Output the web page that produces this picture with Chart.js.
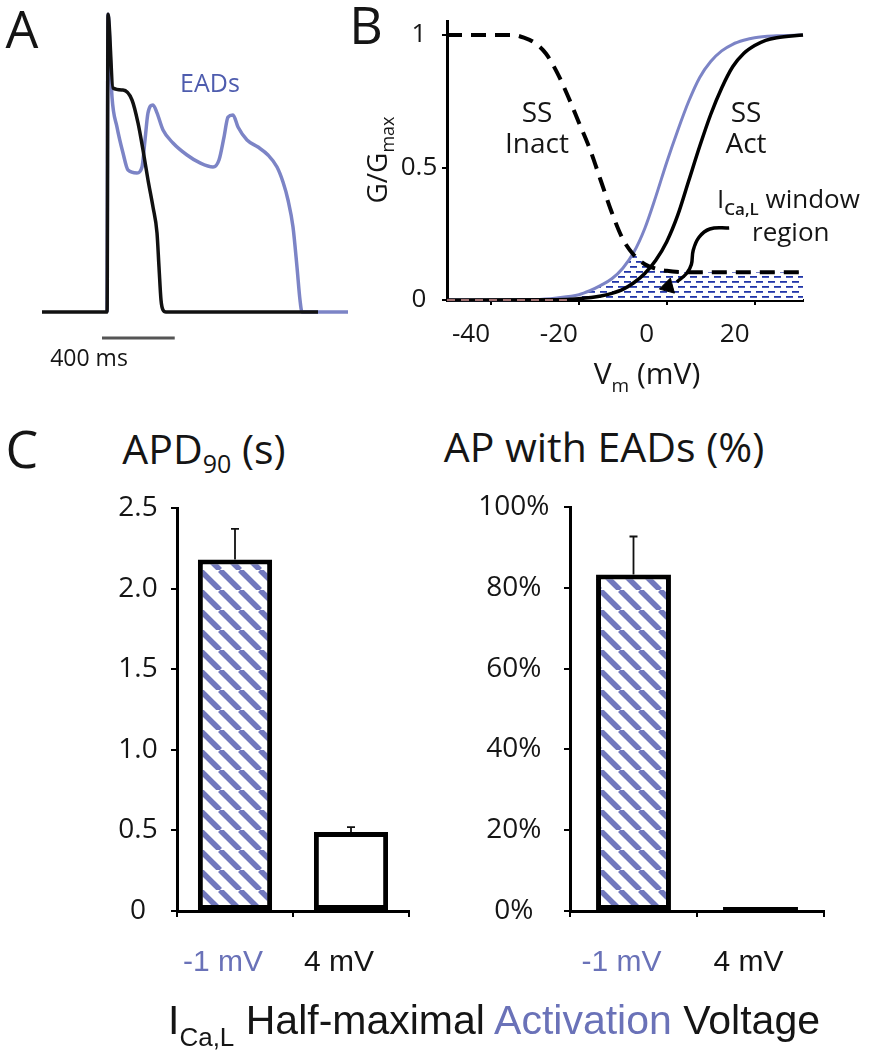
<!DOCTYPE html>
<html><head><meta charset="utf-8">
<script src="https://cdn.jsdelivr.net/npm/chart.js@4.4.1/dist/chart.umd.min.js"></script>
<style>
html,body{margin:0;padding:0;background:#fff;}
#root{position:relative;width:873px;height:1050px;overflow:hidden;background:#fff;font-family:"Open Sans",sans-serif;color:#151515;}
canvas{position:absolute;}
.t{position:absolute;transform:translate(-50%,-50%);white-space:nowrap;line-height:1;}
.l{position:absolute;transform:translate(0,-50%);white-space:nowrap;line-height:1;}
sub{line-height:0;}
</style></head><body><div id="root">
<canvas id="cA" style="left:30px;top:5px" width="330" height="340"></canvas>
<canvas id="cB" style="left:360px;top:0px" width="460" height="400"></canvas>
<canvas id="cC1" style="left:100px;top:490px" width="330" height="510"></canvas>
<canvas id="cC2" style="left:480px;top:490px" width="370" height="510"></canvas>

<div class="t" style="left:22px;top:28px;font-size:52px">A</div>
<div class="t" style="left:366px;top:24px;font-size:52px">B</div>
<div class="t" style="left:22px;top:448px;font-size:52px">C</div>
<div class="t" style="left:210px;top:82px;font-size:25px;color:#4e5cae">EADs</div>
<div class="t" style="left:89px;top:357px;font-size:23px">400 ms</div>
<div class="t" style="left:537px;top:127px;font-size:28px;line-height:31px;text-align:center">SS<br>Inact</div>
<div class="t" style="left:746px;top:127px;font-size:28px;line-height:31px;text-align:center">SS<br>Act</div>
<div class="l" style="left:717px;top:198px;font-size:26px">I<sub style="font-size:17px;vertical-align:-7px;font-weight:600">Ca,L</sub> window</div>
<div class="l" style="left:752px;top:231px;font-size:26px">region</div>
<div class="t" style="left:376px;top:160px;font-size:28px;transform:translate(-50%,-50%) rotate(-90deg)">G/G<sub style="font-size:18px;vertical-align:-7px">max</sub></div>
<div class="t" style="left:647px;top:373px;font-size:30px">V<sub style="font-size:19px;vertical-align:-8px">m</sub> (mV)</div>
<div class="t" style="left:204px;top:448px;font-size:41px">APD<sub style="font-size:25px;vertical-align:-9px">90</sub> (s)</div>
<div class="t" style="left:604px;top:446px;font-size:41px">AP with EADs (%)</div>
<div class="t" style="left:494px;top:1020px;font-size:41px;font-family:'Liberation Sans',Arial,sans-serif">I<sub style="font-size:26px;vertical-align:-12px">Ca,L</sub> Half-maximal <span style="color:#6a72b8">Activation</span> Voltage</div>
</div>
<script>
// ---------- Panel A: action potential traces (t in ms, V in mV) ----------
const blackT = [-363,-5,0,27.5,82.5,132,165,192.5,220,247.5,269.5,280.5,291.5,302.5,319,1155];
const blackV = [-85,-85,46,13.6,12.7,8.3,-1.8,-13.7,-26.9,-38.8,-50.2,-65.2,-79.7,-84.1,-85,-85];
const blueT = [-5,0,22,49.5,82.5,110,159.5,187,203.5,220,247.5,269.5,302.5,357.5,434.5,506,577.5,610.5,638,660,687.5,715,764.5,825,880,929.5,962.5,990,1017.5,1039.5,1056,1067,1320];
const blueV = [-85,46,9.6,-3.6,-15,-22.5,-23.8,-21.2,-9.3,2.6,6.1,2.6,-4.9,-10.6,-15.9,-19.4,-21.2,-18.1,-8,0.8,1.7,-3.6,-9.3,-12.4,-15.9,-21.2,-27.8,-35.7,-47.6,-65.2,-79.7,-85,-85];
const scaleBarT = [-33, 367];
const scaleBarV = [-96.4, -96.4];

// ---------- Panel B: steady-state curves (V in mV, G/Gmax) ----------
const inactV = [-50,-35,-32.5,-30,-27.5,-25,-22.5,-20,-17.5,-15,-12.5,-10,-7.5,-5,-2.5,0,5,31];
const inactG = [1,1,0.99,0.97,0.93,0.86,0.77,0.67,0.57,0.45,0.33,0.23,0.17,0.135,0.118,0.11,0.105,0.105];
const actBlueV = [-50,-30,-25,-20,-17.5,-15,-12.5,-10,-7.5,-5,-2.5,0,2.5,5,7.5,10,12.5,15,17.5,20,25,31];
const actBlueG = [0,0.002,0.008,0.02,0.035,0.055,0.08,0.12,0.18,0.27,0.39,0.52,0.64,0.75,0.84,0.9,0.94,0.965,0.98,0.99,0.997,1];
const actBlackV = [-50,-25,-20,-15,-12.5,-10,-7.5,-5,-2.5,0,2.5,5,7.5,10,12.5,15,17.5,20,22.5,25,31];
const actBlackG = [0,0.001,0.005,0.015,0.025,0.04,0.065,0.1,0.15,0.22,0.32,0.45,0.58,0.7,0.8,0.88,0.93,0.96,0.98,0.99,1];
const windowV = [-20,-17.5,-15,-12.5,-10,-7.5,-5,-2.5,0,5,31];
const windowG = [0.02,0.035,0.055,0.08,0.12,0.17,0.135,0.118,0.11,0.105,0.105];
const arrowV = [14.2,9.8,7.3,6,5.6,4.5,2.3];
const arrowG = [0.272,0.268,0.236,0.186,0.134,0.1,0.068];
const arrowHeadV = [0.3];
const arrowHeadG = [0.05];
const baseDashV = [-50,-22];
const baseDashG = [0,0];
const xTicksB = [-40,-20,0,20];
const yTicksB = [0,0.5,1];

// ---------- Panel C: bar charts ----------
const categories = ['-1 mV','4 mV'];
const apdValues = [2.18, 0.49];
const apdErrors = [0.19, 0.03];
const apdTicks = [0,0.5,1,1.5,2,2.5];
const eadValues = [83.3, 1];
const eadErrors = [9.4, 0];
const eadTicks = [0,20,40,60,80,100];

const BLUE = '#7c84c6';
const LABEL_BLUE = '#6a72b8';
const pts = (xs, ys) => xs.map((x,i)=>({x, y: ys[i]}));

function hatch(){
  const c = document.createElement('canvas'); c.width = 20; c.height = 20;
  const g = c.getContext('2d');
  g.fillStyle = '#fff'; g.fillRect(0,0,20,20);
  g.strokeStyle = '#7178bd'; g.lineWidth = 5.5;
  [-20,0,20].forEach(x0=>{ g.beginPath(); g.moveTo(x0,0); g.lineTo(x0+20,20); g.stroke(); });
  return g.createPattern(c,'repeat');
}
function dots(){
  const c = document.createElement('canvas'); c.width = 12; c.height = 10;
  const g = c.getContext('2d');
  g.fillStyle = '#fff'; g.fillRect(0,0,12,10);
  g.fillStyle = '#2236a8';
  g.fillRect(0,1,7,1.8); g.fillRect(6,6,7,1.8); g.fillRect(-6,6,7,1.8);
  return g.createPattern(c,'repeat');
}
function fixScale(w, h){
  return function(scale){
    if (w !== null) scale.width = w;
    if (h !== null) scale.height = h;
    scale.paddingTop = 0; scale.paddingBottom = 0; scale.paddingLeft = 0; scale.paddingRight = 0;
  };
}
const baseOpts = {responsive:false, animation:false, events:[],
  plugins:{legend:{display:false}, tooltip:{enabled:false}, title:{display:false}}};

// Panel A
new Chart(document.getElementById('cA'), {
  type:'line',
  data:{datasets:[
    {data:pts(blackT,blackV), borderColor:'#111', borderWidth:3.5, pointRadius:0, cubicInterpolationMode:'monotone'},
    {data:pts(blueT,blueV), borderColor:BLUE, borderWidth:3.5, pointRadius:0, cubicInterpolationMode:'monotone'},
    {data:pts(scaleBarT,scaleBarV), borderColor:'#555', borderWidth:3, pointRadius:0}
  ]},
  options:{...baseOpts, layout:{padding:0},
    scales:{x:{type:'linear', display:false, min:-429, max:1386}, y:{type:'linear', display:false, min:-99.5, max:50.1}}}
});

// Panel B
const fontB = {family:'"Open Sans", sans-serif', size:26};
new Chart(document.getElementById('cB'), {
  type:'line',
  data:{datasets:[
    {data:pts(baseDashV,baseDashG), borderColor:'#a07070', borderWidth:2, borderDash:[8,6], pointRadius:0},
    {data:pts(arrowHeadV,arrowHeadG), showLine:false, pointStyle:'triangle', pointRadius:9, pointRotation:255, backgroundColor:'#000', borderColor:'#000', borderWidth:1},
    {data:pts(arrowV,arrowG), borderColor:'#000', borderWidth:3.5, pointRadius:0, tension:0.4},
    {data:pts(inactV,inactG), borderColor:'#000', borderWidth:4, borderDash:[15,9], pointRadius:0, cubicInterpolationMode:'monotone'},
    {data:pts(actBlackV,actBlackG), borderColor:'#000', borderWidth:3.5, pointRadius:0, cubicInterpolationMode:'monotone'},
    {data:pts(actBlueV,actBlueG), borderColor:BLUE, borderWidth:3, pointRadius:0, cubicInterpolationMode:'monotone'},
    {data:pts(windowV,windowG), borderColor:'rgba(0,0,0,0)', borderWidth:0, pointRadius:0, backgroundColor:dots(), fill:'origin', cubicInterpolationMode:'monotone'}
  ]},
  options:{...baseOpts, clip:false, layout:{padding:{top:21.75, right:17, left:0, bottom:0}},
    scales:{
      x:{type:'linear', min:-50, max:31, afterFit:fixScale(null,100),
         afterBuildTicks:s=>{s.ticks = xTicksB.map(v=>({value:v}));},
         grid:{drawOnChartArea:false, drawTicks:true, tickLength:5, color:'#000', lineWidth:2},
         border:{display:true, color:'#000', width:3},
         ticks:{color:'#151515', font:fontB, padding:14.4, labelOffset:-20, maxRotation:0, callback:v=>String(v)}},
      y:{type:'linear', min:0, max:1.05, afterFit:fixScale(87,null),
         afterBuildTicks:s=>{s.ticks = yTicksB.map(v=>({value:v}));},
         grid:{drawOnChartArea:false, drawTicks:true, tickLength:5, color:'#000', lineWidth:2},
         border:{display:true, color:'#000', width:3},
         ticks:{color:'#151515', font:fontB, padding:4.7, crossAlign:'center', callback:v=>String(v)}}
    }}
});

// Error bar plugin
const errorBars = {id:'errorBars', afterDatasetsDraw(chart){
  const ctx = chart.ctx, y = chart.scales.y;
  const ds = chart.data.datasets[0], meta = chart.getDatasetMeta(0);
  ctx.save(); ctx.strokeStyle = '#111'; ctx.lineWidth = 1.8;
  meta.data.forEach((bar,i)=>{
    const e = ds.errors[i]; if (!e) return;
    const yTop = y.getPixelForValue(ds.data[i] + e);
    ctx.beginPath(); ctx.moveTo(bar.x, bar.y); ctx.lineTo(bar.x, yTop);
    ctx.moveTo(bar.x-4, yTop); ctx.lineTo(bar.x+4, yTop); ctx.stroke();
  });
  ctx.restore();
}};

function barChart(id, values, errors, ticks, max, yWidth, padTop, padRight, barPct, yPad, fmt){
  const fontY = {family:'"Open Sans", sans-serif', size:28};
  const fontX = {family:'"Liberation Sans",Arial,sans-serif', size:30};
  return new Chart(document.getElementById(id), {
    type:'bar',
    data:{labels:categories, datasets:[{data:values, errors:errors,
      backgroundColor:[hatch(), '#fff'], borderColor:'#000', borderWidth:5, borderSkipped:false,
      barPercentage:barPct, categoryPercentage:1}]},
    plugins:[errorBars],
    options:{...baseOpts, layout:{padding:{top:padTop, right:padRight, left:0, bottom:0}},
      scales:{
        x:{type:'category', offset:true, afterFit:fixScale(null,89),
           grid:{offset:true, drawOnChartArea:false, drawTicks:true, tickLength:6, color:'#000', lineWidth:2},
           border:{display:true, color:'#000', width:3},
           ticks:{font:fontX, padding:27.5, labelOffset:-12, maxRotation:0,
                  color:c=> c.index===0 ? LABEL_BLUE : '#151515'}},
        y:{type:'linear', min:0, max:max, afterFit:fixScale(yWidth,null),
           afterBuildTicks:s=>{s.ticks = ticks.map(v=>({value:v}));},
           grid:{drawOnChartArea:false, drawTicks:true, tickLength:6, color:'#000', lineWidth:2},
           border:{display:true, color:'#000', width:3},
           ticks:{font:fontY, color:'#151515', padding:yPad, crossAlign:'center', callback:fmt}}
      }}
  });
}
barChart('cC1', apdValues, apdErrors, apdTicks, 2.5, 77, 18, 21, 0.64, 13.3, v=> v===0 ? '0' : v.toFixed(1));
barChart('cC2', eadValues, eadErrors, eadTicks, 100, 90, 17, 26, 0.59, 14.5, v=> v+'%');
</script>
</body></html>
